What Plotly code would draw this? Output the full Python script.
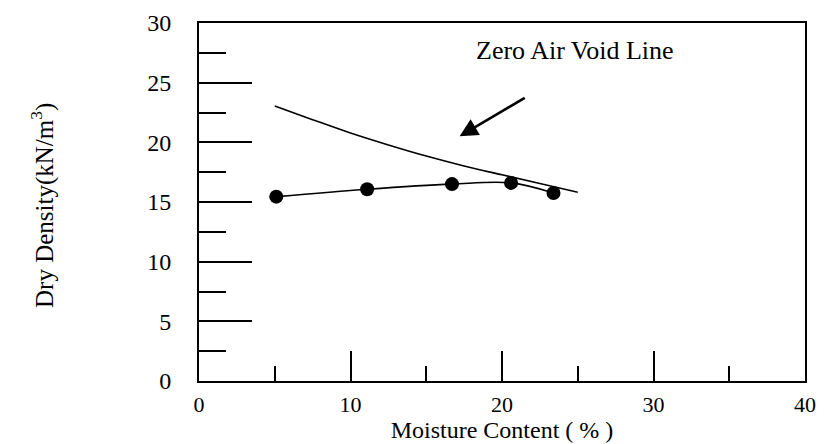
import plotly.graph_objects as go

# Compaction test points
moisture = [5.1, 11.1, 16.7, 20.6, 23.4]
dry_density = [15.45, 16.07, 16.5, 16.6, 15.75]

# Zero air void line
zav_moisture = [5, 7.5, 10, 12.5, 15, 17.5, 20, 22.5, 25]
zav_density = [23.05, 21.9, 20.78, 19.78, 18.85, 18.02, 17.28, 16.55, 15.82]

x_ticks = [0, 10, 20, 30, 40]
y_ticks = [0, 5, 10, 15, 20, 25, 30]

FONT = "Liberation Serif"

fig = go.Figure()
fig.add_trace(go.Scatter(
    x=zav_moisture, y=zav_density, mode="lines", line_shape="spline",
    line=dict(color="black", width=1.6), showlegend=False, hoverinfo="skip"))
fig.add_trace(go.Scatter(
    x=moisture, y=dry_density, mode="lines+markers", line_shape="spline",
    line=dict(color="black", width=1.6),
    marker=dict(color="black", size=14), showlegend=False))

fig.add_annotation(
    x=17.2, y=20.5, ax=21.6, ay=23.8, xref="x", yref="y", axref="x", ayref="y",
    text="", showarrow=True, arrowhead=2, arrowsize=1.4, arrowwidth=2.6,
    arrowcolor="black")
fig.add_annotation(
    x=24.8, y=27.7, xref="x", yref="y", text="Zero Air Void Line",
    showarrow=False, font=dict(family=FONT, size=26, color="black"))
fig.add_annotation(
    x=0, y=0.5, xref="paper", yref="paper", xanchor="center", yanchor="middle",
    xshift=-157, yshift=-4, textangle=-90,
    text="Dry Density(kN/m<sup>3</sup>)", showarrow=False,
    font=dict(family=FONT, size=25, color="black"))

fig.update_xaxes(
    range=[0, 40], tickvals=x_ticks, ticktext=[str(v) for v in x_ticks],
    ticks="inside", ticklen=30, tickwidth=2, tickcolor="black",
    minor=dict(tickvals=[5, 15, 25, 35], ticks="inside", ticklen=15,
               tickwidth=2, tickcolor="black"),
    showline=True, linecolor="black", linewidth=2, mirror=True,
    showgrid=False, zeroline=False, ticklabelstandoff=3,
    tickfont=dict(family=FONT, size=22, color="black"),
    title=dict(text="Moisture Content ( % )", standoff=5,
               font=dict(family=FONT, size=24, color="black")))
fig.update_yaxes(
    range=[0, 30], tickvals=y_ticks, ticktext=[str(v) for v in y_ticks],
    ticks="inside", ticklen=53, tickwidth=2, tickcolor="black",
    minor=dict(tickvals=[2.5, 7.5, 12.5, 17.5, 22.5, 27.5], ticks="inside",
               ticklen=27, tickwidth=2, tickcolor="black"),
    showline=True, linecolor="black", linewidth=2, mirror=True,
    showgrid=False, zeroline=False, ticklabelstandoff=21,
    tickfont=dict(family=FONT, size=24, color="black"))

fig.update_layout(
    width=826, height=444,
    margin=dict(l=199, r=21, t=23, b=63, autoexpand=False),
    plot_bgcolor="white", paper_bgcolor="white",
)

fig.write_html(
    "out.html",
    config={"displayModeBar": False},
    post_script="document.body.style.margin='0';document.documentElement.style.margin='0';",
)
